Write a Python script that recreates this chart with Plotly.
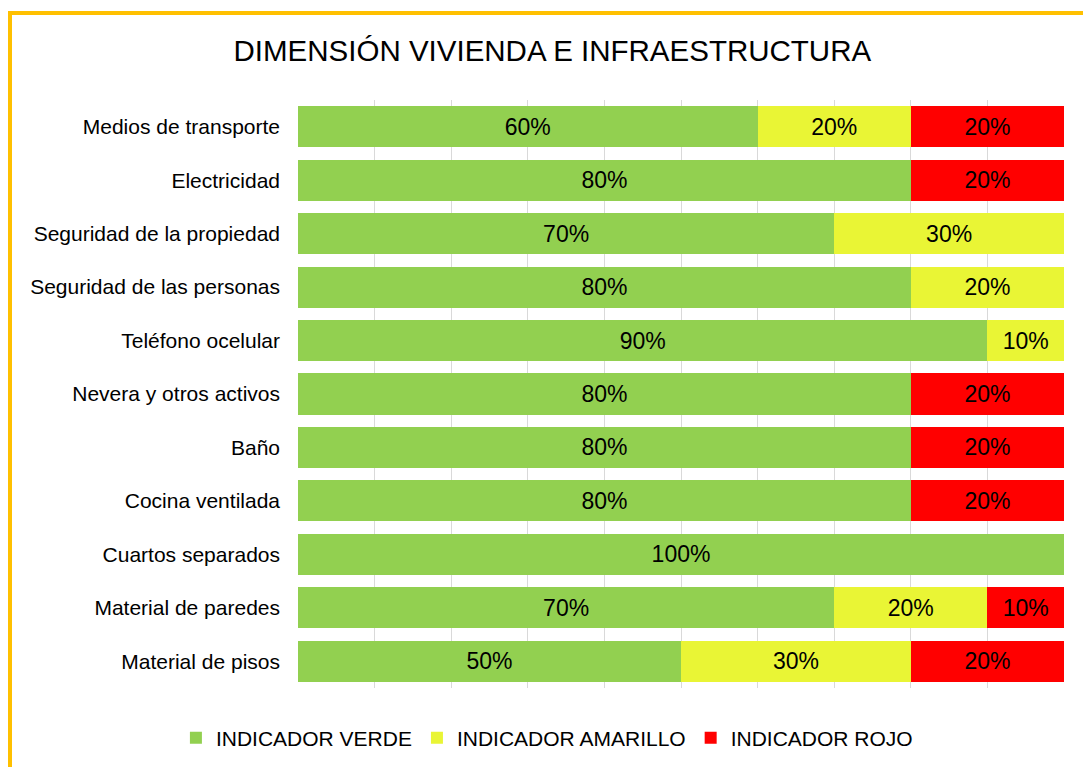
import plotly.graph_objects as go

categories = ["Medios de transporte", "Electricidad", "Seguridad de la propiedad",
              "Seguridad de las personas", "Teléfono ocelular", "Nevera y otros activos",
              "Baño", "Cocina ventilada", "Cuartos separados", "Material de paredes",
              "Material de pisos"]
verde = [60, 80, 70, 80, 90, 80, 80, 80, 100, 70, 50]
amarillo = [20, 0, 30, 20, 10, 0, 0, 0, 0, 20, 30]
rojo = [20, 20, 0, 0, 0, 20, 20, 20, 0, 10, 20]
series_names = ["INDICADOR VERDE", "INDICADOR AMARILLO", "INDICADOR ROJO"]
colors = ["#92D050", "#E9F535", "#FF0000"]

W, H = 1083, 767
L, R, T, B = 298, 19, 100, 79

fig = go.Figure()
for name, vals, col in zip(series_names, [verde, amarillo, rojo], colors):
    fig.add_trace(go.Bar(
        y=categories, x=vals, name=name, orientation="h",
        marker=dict(color=col, line=dict(width=0)),
        text=[f"{v}%" if v else "" for v in vals],
        textposition="inside", insidetextanchor="middle",
        textfont=dict(size=23, color="black", family="Liberation Sans, Arial"),
        constraintext="none", hoverinfo="skip",
    ))

pw = W - L - R
ph = H - T - B
def px_x(p):
    return (p - L) / pw
def px_y(p):
    return (H - B - p) / ph

fig.update_layout(
    width=W, height=H,
    margin=dict(l=L, r=R, t=T, b=B),
    barmode="stack", bargap=0.23,
    paper_bgcolor="white", plot_bgcolor="white",
    font=dict(family="Liberation Sans, Arial", color="black", size=16),
    title=dict(text="DIMENSIÓN VIVIENDA E INFRAESTRUCTURA", x=0.51, xref="container",
               xanchor="center", y=1 - 51 / H, yref="container", yanchor="middle",
               font=dict(size=29.5, color="black")),
    xaxis=dict(range=[0, 100], dtick=10, showgrid=True, gridcolor="#D9D9D9", gridwidth=1,
               showticklabels=False, zeroline=False, showline=False, fixedrange=True),
    yaxis=dict(autorange="reversed", showgrid=False, ticks="", ticklabelstandoff=17,
               tickfont=dict(size=21, color="black"), showline=False),
    legend=dict(orientation="h", x=0.505, xref="container", xanchor="center",
                y=1 - 738 / H, yref="container", yanchor="middle",
                font=dict(size=21, color="black"), traceorder="normal",
                itemwidth=30),
    showlegend=True,
    shapes=[dict(type="rect", xref="paper", yref="paper",
                 x0=px_x(10), x1=px_x(1110), y0=px_y(13), y1=px_y(790),
                 line=dict(color="#FFC000", width=4), fillcolor="rgba(0,0,0,0)",
                 layer="above")],
)

fig.write_html("out.html", config={"displayModeBar": False},
               post_script="document.body.style.margin='0';document.body.style.overflow='hidden';")
